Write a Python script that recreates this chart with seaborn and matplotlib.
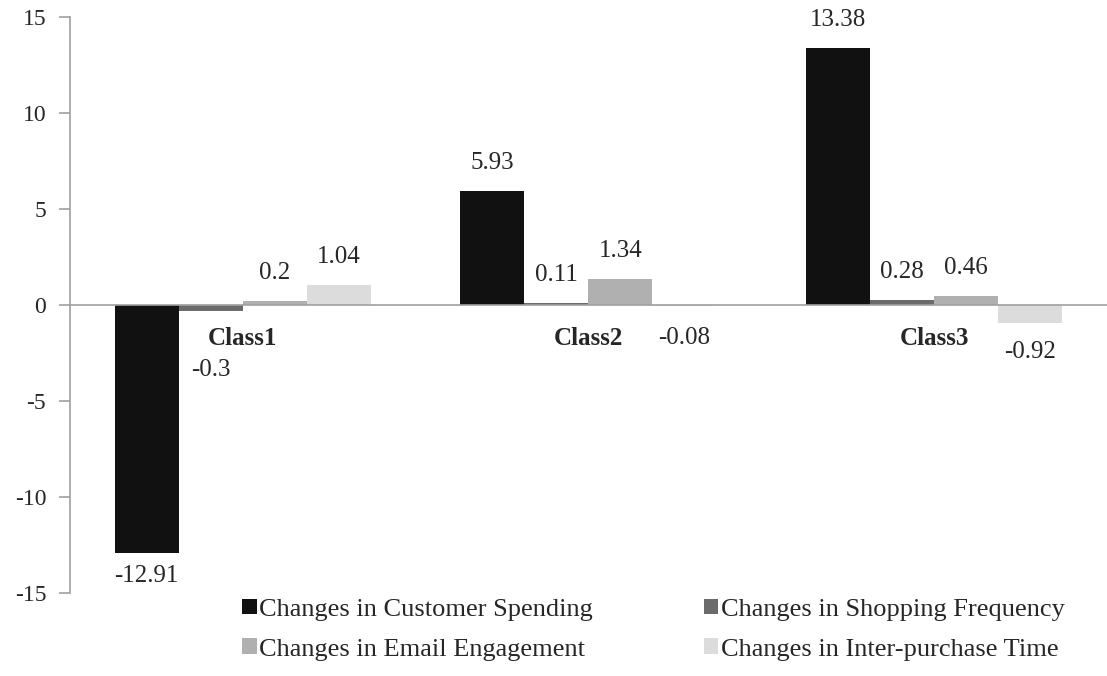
import matplotlib
matplotlib.use("Agg")
import matplotlib.pyplot as plt
import seaborn as sns
import pandas as pd
from matplotlib.patches import Patch

classes = ["Class1", "Class2", "Class3"]
series = ["Changes in Customer Spending", "Changes in Shopping Frequency",
          "Changes in Email Engagement", "Changes in Inter-purchase Time"]
spending = [-12.91, 5.93, 13.38]
frequency = [-0.3, 0.11, 0.28]
email = [0.2, 1.34, 0.46]
interpurchase = [1.04, -0.08, -0.92]
yticks = [-15, -10, -5, 0, 5, 10, 15]

colors = ["#111111", "#6b6b6b", "#b0b0b0", "#dcdcdc"]

rows = []
for s, vals in zip(series, [spending, frequency, email, interpurchase]):
    for c, v in zip(classes, vals):
        rows.append({"Class": c, "Series": s, "Value": v})
df = pd.DataFrame(rows)

sns.set_style("white")
plt.rcParams["font.family"] = ["Liberation Serif", "DejaVu Serif"]

fig = plt.figure(figsize=(11.07, 6.76), dpi=100)
ax = fig.add_axes([0.063, 0.123, 0.937, 0.852])

sns.barplot(data=df, x="Class", y="Value", hue="Series", order=classes,
            hue_order=series, palette=colors, width=0.74, gap=0,
            edgecolor="none", linewidth=0, ax=ax, legend=False)

ax.set_ylim(-15, 15)
ax.set_xlim(-0.5, 2.5)
ax.set_yticks(yticks)
ax.set_yticklabels([str(t) for t in yticks], fontsize=17)
ax.set_xlabel("")
ax.set_ylabel("")

for side in ["top", "right"]:
    ax.spines[side].set_visible(False)
ax.spines["left"].set_color("#a0a0a0")
ax.spines["left"].set_linewidth(1.2)
ax.spines["bottom"].set_position(("data", 0))
ax.spines["bottom"].set_color("#a0a0a0")
ax.spines["bottom"].set_linewidth(1.2)
ax.set_xticks([0.5, 1.5])
ax.set_xticklabels(["", ""])
ax.tick_params(axis="x", direction="out", length=7, color="#a0a0a0", width=1.2)
ax.tick_params(axis="y", direction="out", length=8, color="#a0a0a0", width=1.2,
               left=True, pad=9)

# value labels (offsets in points, per negative label)
neg_off = {(0, 0): 17, (1, 0): 43, (3, 1): 23, (3, 2): 21}
for si, cont in enumerate(ax.containers):
    for ci, bar in enumerate(cont):
        v = bar.get_height()
        x = bar.get_x() + bar.get_width() / 2
        lab = f"{v:g}"
        if v >= 0:
            ax.annotate(lab, (x, v), xytext=(0, 12), textcoords="offset points",
                        ha="center", va="bottom", fontsize=18)
        else:
            off = neg_off.get((si, ci), 20)
            ax.annotate(lab, (x, v), xytext=(0, -off), textcoords="offset points",
                        ha="center", va="center", fontsize=18)

for i, c in enumerate(classes):
    ax.annotate(c, (i, 0), xytext=(0, -24), textcoords="offset points",
                ha="center", va="center", fontsize=18, fontweight="bold")

handles = [Patch(facecolor=col, edgecolor="none") for col in colors]
order = [0, 2, 1, 3]
fig.legend([handles[i] for i in order], [series[i] for i in order],
           loc="upper left", bbox_to_anchor=(0.2186, 0.1146),
           ncol=2, frameon=False, fontsize=19, handlelength=0.55,
           handleheight=0.55, handletextpad=0.1, columnspacing=4.2,
           labelspacing=0.67, borderpad=0, borderaxespad=0)

fig.savefig("out.png", dpi=100)
